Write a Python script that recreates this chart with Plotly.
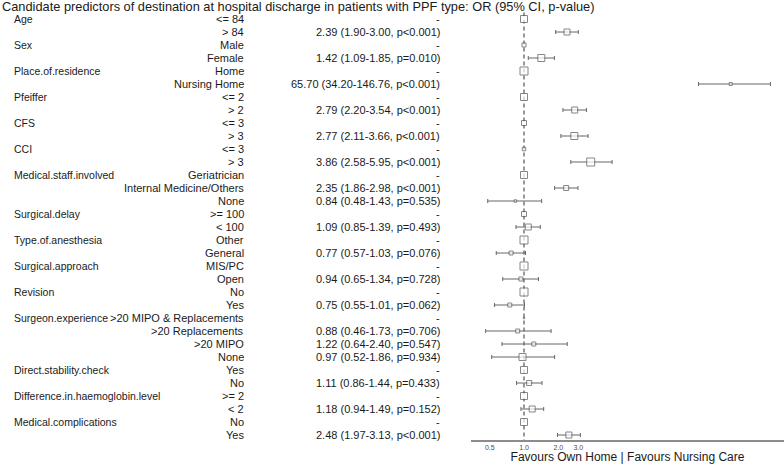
import plotly.graph_objects as go

# ---------------- data ----------------
factors = ["Age", "", "Sex", "", "Place.of.residence", "", "Pfeiffer", "", "CFS", "",
           "CCI", "", "Medical.staff.involved", "", "", "Surgical.delay", "",
           "Type.of.anesthesia", "", "Surgical.approach", "", "Revision", "",
           "Surgeon.experience", "", "", "", "Direct.stability.check", "",
           "Difference.in.haemoglobin.level", "", "Medical.complications", ""]
levels = ["<= 84", "> 84", "Male", "Female", "Home", "Nursing Home", "<= 2", "> 2",
          "<= 3", "> 3", "<= 3", "> 3", "Geriatrician", "Internal Medicine/Others", "None",
          ">= 100", "< 100", "Other", "General", "MIS/PC", "Open", "No", "Yes",
          ">20 MIPO & Replacements", ">20 Replacements", ">20 MIPO", "None",
          "Yes", "No", ">= 2", "< 2", "No", "Yes"]
# None = reference level (OR fixed at 1)
or_est = [None, 2.39, None, 1.42, None, 65.70, None, 2.79, None, 2.77, None, 3.86,
          None, 2.35, 0.84, None, 1.09, None, 0.77, None, 0.94, None, 0.75,
          None, 0.88, 1.22, 0.97, None, 1.11, None, 1.18, None, 2.48]
ci_low = [None, 1.90, None, 1.09, None, 34.20, None, 2.20, None, 2.11, None, 2.58,
          None, 1.86, 0.48, None, 0.85, None, 0.57, None, 0.65, None, 0.55,
          None, 0.46, 0.64, 0.52, None, 0.86, None, 0.94, None, 1.97]
ci_high = [None, 3.00, None, 1.85, None, 146.76, None, 3.54, None, 3.66, None, 5.95,
           None, 2.98, 1.43, None, 1.39, None, 1.03, None, 1.34, None, 1.01,
           None, 1.73, 2.40, 1.86, None, 1.44, None, 1.49, None, 3.13]
p_text = [None, "p<0.001", None, "p=0.010", None, "p<0.001", None, "p<0.001", None, "p<0.001",
          None, "p<0.001", None, "p<0.001", "p=0.535", None, "p=0.493", None, "p=0.076",
          None, "p=0.728", None, "p=0.062", None, "p=0.706", "p=0.547", "p=0.934",
          None, "p=0.433", None, "p=0.152", None, "p<0.001"]
x_ticks = [0.5, 1.0, 2.0, 3.0]
x_tick_labels = ["0.5", "1.0", "2.0", "3.0"]
title_text = "Candidate predictors of destination at hospital discharge in patients with PPF type: OR (95% CI, p-value)"
x_title = "Favours Own Home | Favours Nursing Care"

# ---------------- style ----------------
marker_px = [7, 6, 4, 7, 8, 3, 7, 6, 5, 7, 3.5, 8, 7, 5, 2.5, 5, 6, 8, 4, 8, 4, 8, 4,
             1.5, 4, 4, 7, 7, 5, 7, 6, 7, 6]
FONT = "Liberation Sans, Arial, sans-serif"
W, H = 784, 464
MT, MB = 0, 24
ROW_PX = 13.0
FIRST_ROW_PX = 19.0
plot_h = H - MT - MB
y_top = -FIRST_ROW_PX / ROW_PX
y_bot = y_top + plot_h / ROW_PX

n = len(levels)
rows = list(range(n))

fig = go.Figure()

# reference line at OR = 1
fig.add_trace(go.Scatter(x=[1, 1], y=[-0.5, y_bot], mode="lines",
                         line=dict(color="#333333", width=1, dash="4px,3px"),
                         hoverinfo="skip", showlegend=False))

# reference levels
ref_rows = [i for i in rows if or_est[i] is None]
fig.add_trace(go.Scatter(
    x=[1.0] * len(ref_rows), y=ref_rows, mode="markers",
    marker=dict(symbol="square", size=[marker_px[i] for i in ref_rows], color="white",
                line=dict(color="#555555", width=1)),
    showlegend=False))

# estimates with CI
est_rows = [i for i in rows if or_est[i] is not None]
fig.add_trace(go.Scatter(
    x=[or_est[i] for i in est_rows], y=est_rows, mode="markers",
    error_x=dict(type="data", symmetric=False,
                 array=[ci_high[i] - or_est[i] for i in est_rows],
                 arrayminus=[or_est[i] - ci_low[i] for i in est_rows],
                 color="#666666", thickness=1, width=2),
    marker=dict(symbol="square", size=[marker_px[i] for i in est_rows], color="white",
                line=dict(color="#555555", width=1)),
    showlegend=False))

annotations = []
for i in rows:
    if factors[i]:
        annotations.append(dict(x=12 / W, y=i, xref="paper", yref="y", text=factors[i],
                                showarrow=False, xanchor="left", yanchor="middle",
                                font=dict(family=FONT, size=10.5, color="#1a1a1a")))
    annotations.append(dict(x=245.5 / W, y=i, xref="paper", yref="y", text=levels[i],
                            showarrow=False, xanchor="right", yanchor="middle",
                            font=dict(family=FONT, size=11, color="#1a1a1a")))
    if or_est[i] is None:
        t = "-"
    else:
        t = f"{or_est[i]:.2f} ({ci_low[i]:.2f}-{ci_high[i]:.2f}, {p_text[i]})"
    annotations.append(dict(x=441.5 / W, y=i, xref="paper", yref="y", text=t,
                            showarrow=False, xanchor="right", yanchor="middle",
                            font=dict(family=FONT, size=11, color="#1a1a1a")))

fig.update_layout(
    width=W, height=H,
    margin=dict(l=0, r=0, t=MT, b=MB, pad=0),
    paper_bgcolor="white", plot_bgcolor="white",
    title=dict(text=title_text, x=2 / W, xanchor="left", xref="paper",
               y=1 - 7 / H, yanchor="middle", yref="container",
               font=dict(family=FONT, size=12.8, color="#1a1a1a")),
    annotations=annotations,
    xaxis=dict(type="log", domain=[471 / W, 1], range=[-0.466, 2.286],
               tickvals=x_ticks, ticktext=x_tick_labels, ticks="",
               showgrid=False, zeroline=False, showline=True,
               linecolor="#8c8c8c", linewidth=1.5,
               tickfont=dict(family=FONT, size=7, color="#4d4d4d"),
               title=dict(text=x_title, font=dict(family=FONT, size=12, color="#1a1a1a"),
                          standoff=2),
               automargin=False, fixedrange=True),
    yaxis=dict(range=[y_bot, y_top], visible=False, showgrid=False, zeroline=False,
               automargin=False, fixedrange=True),
)

fig.write_html("out.html", config={"displayModeBar": False},
               post_script="document.body.style.margin='0';document.body.style.overflow='hidden';")
